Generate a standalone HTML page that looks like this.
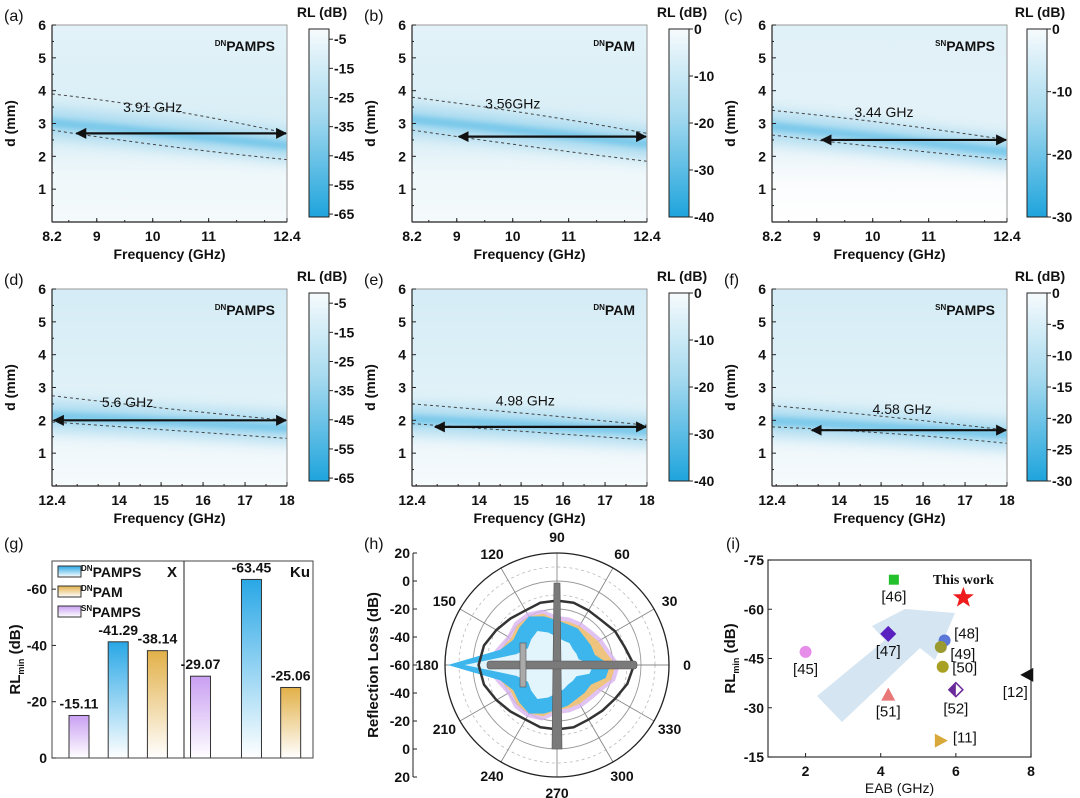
<!DOCTYPE html>
<html><head><meta charset="utf-8"><style>
html,body{margin:0;padding:0;background:#fff;}
svg{display:block;font-family:"Liberation Sans",sans-serif;}
</style></head><body>
<svg id="fig" width="1080" height="798" viewBox="0 0 1080 798" xmlns="http://www.w3.org/2000/svg">
<defs>
<linearGradient id="cbar" x1="0" y1="0" x2="0" y2="1"><stop offset="0" stop-color="#f6fbfd"/><stop offset="0.45" stop-color="#a6daef"/><stop offset="1" stop-color="#1ea4dc"/></linearGradient>
<linearGradient id="bgTop" x1="0" y1="0" x2="0" y2="1"><stop offset="0" stop-color="#e2f2f8"/><stop offset="0.55" stop-color="#d9eef6"/><stop offset="0.75" stop-color="#eef7fa"/><stop offset="1" stop-color="#f5fafb"/></linearGradient>
<linearGradient id="bgC" x1="0" y1="0" x2="0" y2="1"><stop offset="0" stop-color="#e0f1f7"/><stop offset="0.6" stop-color="#e4f2f8"/><stop offset="0.8" stop-color="#fafcfd"/><stop offset="1" stop-color="#ffffff"/></linearGradient>
<linearGradient id="bgBot" x1="0" y1="0" x2="0" y2="1"><stop offset="0" stop-color="#d5ecf6"/><stop offset="0.6" stop-color="#e2f2f8"/><stop offset="0.85" stop-color="#f1f8fb"/><stop offset="1" stop-color="#f6fbfc"/></linearGradient>
<linearGradient id="gBlue" x1="0" y1="0" x2="0" y2="1"><stop offset="0" stop-color="#29a7e6"/><stop offset="1" stop-color="#ffffff"/></linearGradient>
<linearGradient id="gOr" x1="0" y1="0" x2="0" y2="1"><stop offset="0" stop-color="#e2b048"/><stop offset="1" stop-color="#ffffff"/></linearGradient>
<linearGradient id="gPu" x1="0" y1="0" x2="0" y2="1"><stop offset="0" stop-color="#c99ff2"/><stop offset="1" stop-color="#ffffff"/></linearGradient>
<filter id="blur" filterUnits="userSpaceOnUse" x="0" y="0" width="1080" height="798"><feGaussianBlur stdDeviation="7"/></filter>
<filter id="blur2" filterUnits="userSpaceOnUse" x="0" y="0" width="1080" height="798"><feGaussianBlur stdDeviation="3"/></filter>
<marker id="ah" viewBox="0 0 10 10" refX="9" refY="5" markerWidth="5" markerHeight="5" orient="auto-start-reverse"><path d="M0,0 L10,5 L0,10 z" fill="#111"/></marker>
</defs>
</svg>
<script>
const NS='http://www.w3.org/2000/svg';
const svg=document.getElementById('fig');
function mk(tag,attrs,parent){const e=document.createElementNS(NS,tag);for(const k in attrs)e.setAttribute(k,attrs[k]);(parent||svg).appendChild(e);return e;}
function txt(s,x,y,o,parent){const t=mk('text',Object.assign({x:x,y:y,'font-size':13,'font-weight':'bold',fill:'#111'},o||{}),parent);t.textContent=s;return t;}

// ---------- Heatmap panels data ----------
const hmLetters=['(a)','(b)','(c)','(d)','(e)','(f)'];
const hmSamples=['PAMPS','PAM','PAMPS','PAMPS','PAM','PAMPS'];
const hmSups=['DN','DN','SN','DN','DN','SN'];
const hmEab=['3.91 GHz','3.56GHz','3.44 GHz','5.6 GHz','4.98 GHz','4.58 GHz'];
const hmBandStart=[3.0,3.1,2.9,2.1,2.0,1.95];
const hmBandEnd=[2.3,2.35,2.1,1.75,1.65,1.55];
const hmUpper=[[3.9,3.4,2.7],[3.8,3.3,2.7],[3.4,3.0,2.5],[2.75,2.35,2.0],[2.5,2.2,1.85],[2.45,2.1,1.7]];
const hmLower=[[2.8,2.3,1.9],[2.8,2.3,1.85],[2.65,2.25,1.9],[1.95,1.7,1.45],[1.9,1.65,1.4],[1.8,1.6,1.3]];
const hmArrowY=[2.7,2.6,2.5,2.0,1.8,1.7];
const hmArrowFrom=[8.6,9.0,9.05,12.4,12.9,13.3];
const hmLabelPos=[[10.0,3.35],[10.0,3.45],[10.2,3.2],[14.2,2.4],[15.1,2.45],[15.5,2.2]];
const cbTicks=[[-5,-15,-25,-35,-45,-55,-65],[0,-10,-20,-30,-40],[0,-10,-20,-30],[-5,-15,-25,-35,-45,-55,-65],[0,-10,-20,-30,-40],[0,-5,-10,-15,-20,-25,-30]];
const cbMin=[-66,-40,-30,-66,-40,-30];
const cbMax=[-1.5,0,0,-1.5,0,0];
const xTicksX=[8.2,9,10,11,12.4];
const xTicksKu=[12.4,14,15,16,17,18];
const yTicks=[1,2,3,4,5,6];

for(let i=0;i<6;i++){
  const col=i%3,row=Math.floor(i/3);
  const ox=col*360, oy=row*264;
  const L=52+ox, R=287+ox, T=25+oy, B=222+oy;
  const xl=row==0?8.2:12.4, xr=row==0?12.4:18;
  const X=v=>L+(v-xl)/(xr-xl)*(R-L);
  const Y=v=>B-v/6*(B-T);
  const g=mk('g',{});
  
  
  mk('rect',{x:L,y:T,width:R-L,height:B-T,fill:col==2&&row==0?'url(#bgC)':(row==1?'url(#bgBot)':'url(#bgTop)')},g);
  const cl=mk('clipPath',{id:'clip'+i},g);mk('rect',{x:L,y:T,width:R-L,height:B-T},cl);
  const bg=mk('g',{'clip-path':'url(#clip'+i+')'},g);
  const xm=(xl+xr)/2, ym=(hmBandStart[i]+hmBandEnd[i])/2;
  const bp='M'+(L-10)+','+Y(hmBandStart[i]+0.05)+' Q'+X(xm)+','+Y(ym+0.05)+' '+(R+10)+','+Y(hmBandEnd[i]);
  const band=mk('path',{d:bp,stroke:'#9dd5ee',fill:'none','stroke-width':30,opacity:0.75,filter:'url(#blur)'},bg);
  
  mk('path',{d:bp,stroke:'#4fb8e5',fill:'none','stroke-width':8,opacity:0.6,filter:'url(#blur2)'},bg);
  [hmUpper[i],hmLower[i]].forEach((arr,k)=>{
    const p=mk('path',{d:'M'+X(xl)+','+Y(arr[0])+' Q'+X(xm)+','+Y(2*arr[1]-(arr[0]+arr[2])/2)+' '+X(xr)+','+Y(arr[2]),fill:'none',stroke:'#444','stroke-width':1,'stroke-dasharray':'3,3'},g);
    
  });
  const ar=mk('line',{x1:X(hmArrowFrom[i])+2,y1:Y(hmArrowY[i]),x2:X(xr)-1,y2:Y(hmArrowY[i]),stroke:'#111','stroke-width':2.2,'marker-start':'url(#ah)','marker-end':'url(#ah)'},g);
  
  const lb=txt(hmEab[i],X(hmLabelPos[i][0]),Y(hmLabelPos[i][1]),{'text-anchor':'middle','font-size':14,'font-weight':'normal'},g);
  
  const sl=mk('text',{x:R-12,y:T+26,'text-anchor':'end','font-size':14,'font-weight':'bold',fill:'#111'},g);
  
  const ts=mk('tspan',{'font-size':8,dy:-5},sl);ts.textContent=hmSups[i];
  const ts2=mk('tspan',{dy:5},sl);ts2.textContent=hmSamples[i];
  mk('rect',{x:L,y:T,width:R-L,height:B-T,fill:'none',stroke:'#999','stroke-width':1},g);
  mk('line',{x1:L,y1:T,x2:L,y2:B,stroke:'#222','stroke-width':1.2},g);
  mk('line',{x1:L,y1:B,x2:R,y2:B,stroke:'#222','stroke-width':1.2},g);
  yTicks.forEach(v=>{mk('line',{x1:L,y1:Y(v),x2:L+4,y2:Y(v),stroke:'#222'},g);mk('line',{x1:L,y1:Y(v-0.5),x2:L+2,y2:Y(v-0.5),stroke:'#222'},g);
    const t=txt(String(v),L-6,Y(v)+5,{'text-anchor':'end',"font-size":14},g);});
  const xt=row==0?xTicksX:xTicksKu;
  xt.forEach(v=>{mk('line',{x1:X(v),y1:B,x2:X(v),y2:B-4,stroke:'#222'},g);
    const t=txt(String(v),X(v),B+19,{'text-anchor':'middle',"font-size":14},g);});
  for(let v=Math.ceil(xl*2)/2; v<xr; v+=0.5){mk('line',{x1:X(v),y1:B,x2:X(v),y2:B-2,stroke:'#222'},g);}
  const xtl=txt('Frequency (GHz)',(L+R)/2,B+37,{'text-anchor':'middle','font-size':14},g);
  const ytl=txt('d (mm)',0,0,{'text-anchor':'middle','font-size':14,transform:'translate('+(L-37)+','+((T+B)/2)+') rotate(-90)'},g);
  const let_=txt(hmLetters[i],ox+4,T-4,{'font-size':16,'font-weight':'normal'},g);
  const cx=309+ox+(col==2?-2:0), cT=29+oy, cB=217+oy;
  const cb=mk('rect',{x:cx,y:cT,width:20,height:cB-cT,fill:'url(#cbar)',stroke:'#222','stroke-width':1},g);
  
  const CY=v=>cT+(cbMax[i]-v)/(cbMax[i]-cbMin[i])*(cB-cT);
  cbTicks[i].forEach(v=>{mk('line',{x1:cx+20,y1:CY(v),x2:cx+24,y2:CY(v),stroke:'#222'},g);
    const t=txt(String(v),cx+25,CY(v)+5,{'font-size':14},g);});
  const ct=txt('RL (dB)',cx+13,T-8,{'text-anchor':'middle','font-size':14},g);
}
</script>
<script>
// ---------- (g) bar chart ----------
const barLabels=['-15.11','-41.29','-38.14','-29.07','-63.45','-25.06'];
const barValues=[-15.11,-41.29,-38.14,-29.07,-63.45,-25.06];
const barSeries=['SN','DNPAMPS','DNPAM','SN','DNPAMPS','DNPAM'];
const barCats=[0,1,2,3.1,4.4,5.4];
const barYTicks=[0,-20,-40,-60];
(function(){
  const g=mk('g',{});
  const L=52,R=313,T=561,B=758;
  const Y=v=>B+v/70*(B-T);
  const X=c=>79+c*39.2;
  const fill={SN:'url(#gPu)',DNPAMPS:'url(#gBlue)',DNPAM:'url(#gOr)'};
  barValues.forEach((v,k)=>{
    const r=mk('rect',{x:X(barCats[k])-10,y:Y(v),width:20,height:B-Y(v),fill:fill[barSeries[k]],stroke:'#333','stroke-width':1},g);
    
    const t=txt(barLabels[k],X(barCats[k]),Y(v)-7,{'text-anchor':'middle','font-size':14},g);
  });
  mk('rect',{x:L,y:T,width:R-L,height:B-T,fill:'none',stroke:'#444','stroke-width':1},g);
  mk('line',{x1:184,y1:T,x2:184,y2:B,stroke:'#222'},g);
  barYTicks.forEach(v=>{mk('line',{x1:L,y1:Y(v),x2:L+4,y2:Y(v),stroke:'#222'},g);
    const t=txt(String(v),L-5,Y(v)+5,{'text-anchor':'end','font-size':14},g);});
  const yt=txt('',0,0,{'text-anchor':'middle','font-size':15,transform:'translate(20,'+((T+B)/2)+') rotate(-90)'},g);
  
  let s=mk('tspan',{},yt);s.textContent='RL';s=mk('tspan',{'font-size':9,dy:4},yt);s.textContent='min';s=mk('tspan',{dy:-4},yt);s.textContent=' (dB)';
  const legS=[['DN','PAMPS','url(#gBlue)'],['DN','PAM','url(#gOr)'],['SN','PAMPS','url(#gPu)']];
  legS.forEach((l,k)=>{const y=566+k*20;
    const lg=mk('g',{},g);
    mk('rect',{x:58,y:y,width:23,height:11,fill:l[2],stroke:'#333'},lg);
    const t=mk('text',{x:81,y:y+11,'font-size':14,'font-weight':'bold',fill:'#111'},lg);
    let a=mk('tspan',{'font-size':8,dy:-6},t);a.textContent=l[0];a=mk('tspan',{dy:6},t);a.textContent=l[1];});
  let t=txt('X',172,577,{'text-anchor':'middle','font-size':15},g);
  t=txt('Ku',300,577,{'text-anchor':'middle','font-size':15},g);
  t=txt('(g)',4,549,{'font-size':16,'font-weight':'normal'},g);
})();

// ---------- (h) polar ----------
const polarAngles=[0,15,30,45,60,75,90,105,120,135,150,165,180,195,210,225,240,255,270,285,300,315,330,345];
const blackRL=[-5,-10,-12,-15,-15,-14,-14,-14,-15,-13,-10,-6,-4,-6,-10,-13,-15,-14,-14,-14,-15,-14,-12,-8];
const blueRL=[-22,-32,-32,-32,-30,-30,-28,-24,-20,-22,-24,-18,18,-18,-24,-22,-20,-24,-28,-30,-32,-32,-32,-24];
const orangeRL=[-18,-24,-26,-28,-28,-28,-28,-22,-20,-20,-22,-18,-10,-18,-22,-20,-20,-22,-28,-28,-28,-28,-26,-20];
const polarRTicks=[20,0,-20,-40,-60];
const polarThetaTicks=[0,30,60,90,120,150,180,210,240,270,300,330];
(function(){
  const g=mk('g',{});
  const cx=557,cy=665,Rr=112;
  const rad=v=>(v+60)/80*Rr;
  const pt=(a,v)=>[cx+rad(v)*Math.cos(a*Math.PI/180),cy-rad(v)*Math.sin(a*Math.PI/180)];
  [-50,-30,-10,10].forEach(v=>mk('circle',{cx:cx,cy:cy,r:rad(v),fill:'none',stroke:'#bbb','stroke-dasharray':'3,3','stroke-width':0.8},g));
  [-40,-20,0].forEach(v=>mk('circle',{cx:cx,cy:cy,r:rad(v),fill:'none',stroke:'#999','stroke-width':0.9},g));
  polarThetaTicks.forEach(a=>{const p=pt(a,20);mk('line',{x1:cx,y1:cy,x2:p[0],y2:p[1],stroke:'#888','stroke-width':0.9},g);
    const q=[cx+(Rr+18)*Math.cos(a*Math.PI/180),cy-(Rr+16)*Math.sin(a*Math.PI/180)+5];
    const t=txt(String(a),q[0],q[1],{'text-anchor':'middle','font-size':14},g);});
  const poly=(arr,attrs,name)=>{const p=mk('polygon',Object.assign({points:polarAngles.map((a,k)=>pt(a,arr[k]).join(',')).join(' ')},attrs),g);return p;};
  poly(orangeRL.map(v=>v+3),{fill:'#d8b4f0',opacity:0.8},'series-snpamps');
  poly(orangeRL,{fill:'#f0c46a',opacity:0.85},'series-dnpam');
  poly(blueRL,{fill:'#3cb6ec'},'series-dnpamps');
  poly(blueRL.map(v=>Math.max(-58,v-12)),{fill:'#ffffff',opacity:0.85},'series-inner-area');
  poly(blackRL,{fill:'none',stroke:'#333','stroke-width':2.5,'stroke-linejoin':'round'},'series-reference');
  const ac=mk('g',{fill:'#7a7a7a',stroke:'#555','stroke-width':0.6},g);
  mk('polygon',{points:(cx-3)+','+(cy-82)+' '+(cx+3)+','+(cy-82)+' '+(cx+5)+','+(cy+84)+' '+(cx-5)+','+(cy+84)},ac);
  mk('rect',{x:cx-70,y:cy-4,width:150,height:8,rx:3},ac);
  mk('rect',{x:cx-37,y:cy-22,width:6,height:44,fill:'#aaa'},ac);
  mk('circle',{cx:cx,cy:cy,r:rad(20),fill:'none',stroke:'#222','stroke-width':1.3},g);
  const ax=413;
  mk('line',{x1:ax,y1:cy-Rr,x2:ax,y2:cy+Rr,stroke:'#222'},g);
  polarRTicks.forEach(v=>{[-1,1].forEach(s=>{if(v==-60&&s==1)return;const y=cy+s*rad(v);
    mk('line',{x1:ax,y1:y,x2:ax+4,y2:y,stroke:'#222'},g);
    const t=txt(String(v),ax-3,y+5,{'text-anchor':'end','font-size':14},g);});});
  let t=txt('Reflection Loss (dB)',0,0,{'text-anchor':'middle','font-size':15,transform:'translate(378,'+cy+') rotate(-90)'},g);
  t=txt('(h)',364,549,{'font-size':16,'font-weight':'normal'},g);
})();

// ---------- (i) scatter ----------
const refLabels=['[46]','This work','[47]','[48]','[49]','[45]','[50]','[12]','[51]','[52]','[11]'];
const refEAB=[4.35,6.2,4.2,5.7,5.6,2.0,5.65,7.9,4.2,6.0,5.6];
const refRL=[-69,-63.5,-52.5,-50.5,-48.5,-47,-42.5,-40,-34,-35.5,-20];
const xTicksI=[2,4,6,8];
const yTicksI=[-75,-60,-45,-30,-15];
(function(){
  const g=mk('g',{});
  const L=768,R=1031,T=560,B=757;
  const X=v=>L+(v-1)/7*(R-L);
  const Y=v=>T+(v+75)/60*(B-T);
  const arw=mk('polygon',{points:'817,696 885,640 872,626 905,609 955,613 935,660 920,648 842,722',fill:'#c7dcee',opacity:0.75},g);
  
  mk('rect',{x:L,y:T,width:R-L,height:B-T,fill:'none',stroke:'#333','stroke-width':1.2},g);
  xTicksI.forEach(v=>{mk('line',{x1:X(v),y1:B,x2:X(v),y2:B-4,stroke:'#222'},g);
    const t=txt(String(v),X(v),B+19,{'text-anchor':'middle','font-size':14},g);});
  yTicksI.forEach(v=>{mk('line',{x1:L,y1:Y(v),x2:L+4,y2:Y(v),stroke:'#222'},g);
    const t=txt(String(v),L-4,Y(v)+5,{'text-anchor':'end','font-size':14},g);});
  let t=txt('EAB (GHz)',(L+R)/2,B+36,{'text-anchor':'middle','font-size':14,'font-weight':'normal'},g);
  const yt=txt('',0,0,{'text-anchor':'middle','font-size':15,transform:'translate(735,'+((T+B)/2)+') rotate(-90)'},g);
  let s=mk('tspan',{},yt);s.textContent='RL';s=mk('tspan',{'font-size':9,dy:4},yt);s.textContent='min';s=mk('tspan',{dy:-4},yt);s.textContent=' (dB)';
  const colors=['#22c02a','#ee1c1c','#5a1fc0','#5b78d8','#9a9a30','#e58de8','#a8a020','#111','#e87878','#6a2a9a','#d9a83a'];
  const shapes=['sq','star','dia','hex','circ','circ','cup','ltri','tri','dia2','rtri'];
  const lblOff=[[0,22],[0,-14],[0,22],[22,-2],[22,12],[0,22],[22,6],[-12,22],[0,22],[0,24],[24,2]];
  refEAB.forEach((v,k)=>{
    const x=X(v),y=Y(refRL[k]),c=colors[k];let m;
    switch(shapes[k]){
      case 'sq':m=mk('rect',{x:x-5,y:y-5,width:10,height:10,fill:c},g);break;
      case 'star':{let p=[];for(let j=0;j<10;j++){const r=j%2?4.5:11,a=-Math.PI/2+j*Math.PI/5;p.push((x+r*Math.cos(a))+','+(y+r*Math.sin(a)));}m=mk('polygon',{points:p.join(' '),fill:c},g);break;}
      case 'dia':case 'dia2':m=mk('polygon',{points:x+','+(y-7)+' '+(x+7)+','+y+' '+x+','+(y+7)+' '+(x-7)+','+y,fill:shapes[k]=='dia2'?'#fff':c,stroke:c,'stroke-width':1.5},g);
        if(shapes[k]=='dia2')mk('polygon',{points:x+','+(y-7)+' '+x+','+(y+7)+' '+(x-7)+','+y,fill:c},g);break;
      case 'hex':case 'circ':case 'cup':m=mk('circle',{cx:x,cy:y,r:6,fill:c},g);break;
      case 'ltri':m=mk('polygon',{points:(x-7)+','+y+' '+(x+6)+','+(y-7)+' '+(x+6)+','+(y+7),fill:c},g);break;
      case 'tri':m=mk('polygon',{points:x+','+(y-7)+' '+(x+7)+','+(y+6)+' '+(x-7)+','+(y+6),fill:c},g);break;
      case 'rtri':m=mk('polygon',{points:(x+7)+','+y+' '+(x-6)+','+(y-7)+' '+(x-6)+','+(y+7),fill:c},g);break;
    }
    
    
    const lt=txt(refLabels[k],x+lblOff[k][0],y+lblOff[k][1],{'text-anchor':'middle','font-size':k==1?14:15,'font-weight':k==1?'bold':'normal','font-family':k==1?'Liberation Serif, serif':'Liberation Sans, sans-serif'},g);
    
  });
  t=txt('(i)',726,549,{'font-size':16,'font-weight':'normal'},g);
})();
</script>
</body></html>
